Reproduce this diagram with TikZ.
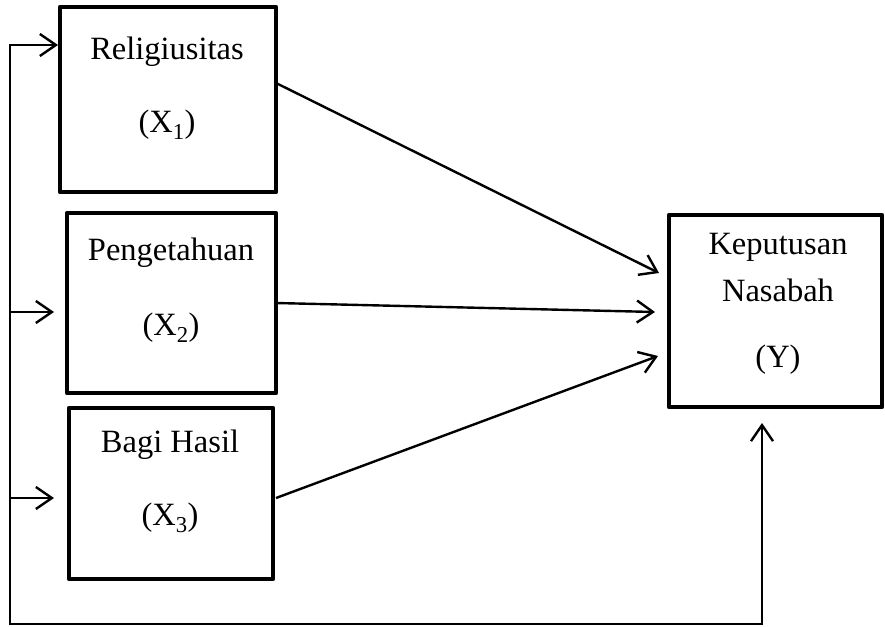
\documentclass[tikz,border=0pt]{standalone}
\usepackage{fontspec}
\setmainfont{Liberation Serif}
\usetikzlibrary{arrows.meta}
\tikzset{
  box/.style={draw, line width=4.8pt, rectangle, inner sep=0pt, outer sep=0pt, line join=round},
  lbl/.style={font=\fontsize{32.5}{39}\selectfont, inner sep=0pt, anchor=center},
  conn/.style={line width=2.4pt, -{Straight Barb[length=16pt, width=22pt, line width=2.4pt]}},
  plain/.style={line width=2.4pt}
}
\begin{document}
\begin{tikzpicture}[x=1pt,y=-1pt]
\useasboundingbox (0,0) rectangle (885,626);
% boxes
\node[box, minimum width=216pt, minimum height=185pt] (b1) at (168,99.5) {};
\node[box, minimum width=209pt, minimum height=180pt] (b2) at (171.5,303) {};
\node[box, minimum width=204pt, minimum height=171pt] (b3) at (171,493.5) {};
\node[box, minimum width=213pt, minimum height=192pt] (by) at (775.5,311) {};
% labels
\node[lbl] (t1) at (167,52) {Religiusitas};
\node[lbl] (s1) at (167,125) {(X\textsubscript{1})};
\node[lbl] (t2) at (171,253) {Pengetahuan};
\node[lbl] (s2) at (171,328) {(X\textsubscript{2})};
\node[lbl] (t3) at (170,445) {Bagi Hasil};
\node[lbl] (s3) at (170,518) {(X\textsubscript{3})};
\node[lbl] (ty1) at (778,247) {Keputusan};
\node[lbl] (ty2) at (778,290) {Nasabah};
\node[lbl] (ty3) at (778,360) {(Y)};
% connector points
\coordinate (L1) at (10,45);
\coordinate (L2) at (10,312);
\coordinate (L3) at (10,498);
\coordinate (Lb) at (10,624);
\coordinate (Rb) at (762,624);
\coordinate (Rt) at (762,423);
\coordinate (a1) at (58,45);
\coordinate (a2) at (54,312);
\coordinate (a3) at (54,498);
\coordinate (o1) at (276,83);
\coordinate (o2) at (276,303);
\coordinate (o3) at (276,498);
\coordinate (i1) at (659,273);
\coordinate (i2) at (655,312);
\coordinate (i3) at (658,356);
% feedback lines
\draw[plain, line cap=rect] (L1) -- (Lb) -- (Rb);
\draw[conn] (Rb) -- (Rt);
\draw[conn] (L1) -- (a1);
\draw[conn] (L2) -- (a2);
\draw[conn] (L3) -- (a3);
% arrows into Y
\draw[conn] (o1) -- (i1);
\draw[conn] (o2) -- (i2);
\draw[conn] (o3) -- (i3);
\end{tikzpicture}
\end{document}
